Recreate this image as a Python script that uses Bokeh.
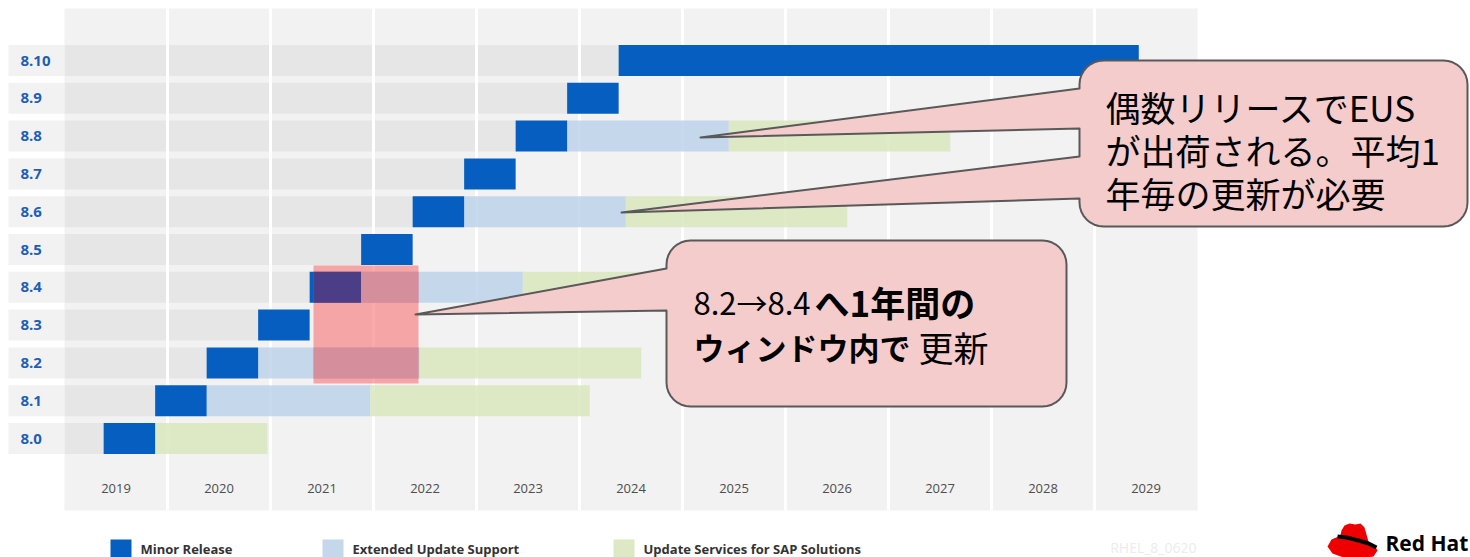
import math
from bokeh.plotting import figure
from bokeh.models import Range1d
from bokeh.core.properties import value
from bokeh.embed import file_html
from bokeh.resources import INLINE

# ---------------- data ----------------
versions = ["8.0", "8.1", "8.2", "8.3", "8.4", "8.5", "8.6", "8.7", "8.8", "8.9", "8.10"]
minor_start = [2019.38, 2019.88, 2020.38, 2020.88, 2021.38, 2021.88, 2022.38, 2022.88, 2023.38, 2023.88, 2024.38]
minor_end = [2019.88, 2020.38, 2020.88, 2021.38, 2021.88, 2022.38, 2022.88, 2023.38, 2023.88, 2024.38, 2029.43]

eus_versions = ["8.1", "8.2", "8.4", "8.6", "8.8"]
eus_start = [2020.38, 2020.88, 2021.88, 2022.88, 2023.88]
eus_end = [2021.97, 2022.45, 2023.45, 2024.45, 2025.45]

sap_versions = ["8.0", "8.1", "8.2", "8.4", "8.6", "8.8"]
sap_start = [2019.88, 2021.97, 2022.45, 2023.45, 2024.45, 2025.45]
sap_end = [2020.97, 2024.10, 2024.60, 2025.60, 2026.60, 2027.60]

years = list(range(2019, 2030))
year_labels = [str(y) for y in years]

legend_labels = ["Minor Release", "Extended Update Support", "Update Services for SAP Solutions"]
callout1_lines = ["偶数リリースでEUS", "が出荷される。平均1", "年毎の更新が必要"]
callout2_line1 = ["8.2→8.4", "へ1年間の"]
callout2_line2 = ["ウィンドウ内で", "更新"]
doc_id = "RHEL_8_0620"
brand = "Red Hat"

# ---------------- colours ----------------
C_MINOR = "#065ec1"
C_EUS = "#bdd2ea"
C_SAP = "#d9e8bc"
C_COL = "#f2f2f2"
C_BAND = "#e6e6e6"
C_LABEL = "#1d5fb6"
C_CALLOUT = "#f4cccc"
C_EDGE = "#595959"
JP = value("Noto Sans CJK JP")
LAT = value("Open Sans")

# ---------------- pixel <-> data helpers (layout only) ----------------
W, H = 1470, 557
def px(x):
    return 2019 + (x - 64) / 103.0
def py(y):
    return (438 - y) / 37.8

row = {v: i for i, v in enumerate(versions)}
HALF = 0.41

p = figure(width=W, height=H, output_backend="svg", toolbar_location=None,
           x_range=Range1d(px(0), px(W)), y_range=Range1d(py(H), py(0)),
           x_axis_location=None, y_axis_location=None, min_border=0)
p.grid.visible = False
p.outline_line_color = None
p.background_fill_color = "white"
p.border_fill_color = "white"

# column background
p.quad(left=[years[0]], right=[years[-1] + 1], top=[py(8)], bottom=[py(510)],
       fill_color=C_COL, line_color=None)

# row grey bands (from chart start to release start)
ys = [row[v] for v in versions]
p.quad(left=[years[0]] * len(versions), right=minor_start,
       top=[y + HALF for y in ys], bottom=[y - HALF for y in ys],
       fill_color=C_BAND, line_color=None)

# row label boxes
p.quad(left=[px(8)] * len(versions), right=[years[0]] * len(versions),
       top=[y + HALF for y in ys], bottom=[y - HALF for y in ys],
       fill_color=C_COL, line_color=None)
p.text(x=[px(20)] * len(versions), y=ys, text=versions, text_font=LAT,
       text_font_style="bold", text_font_size="15px", text_color=C_LABEL,
       text_baseline="middle", text_align="left")

# white year separators
p.segment(x0=years[1:], y0=[py(8)] * (len(years) - 1), x1=years[1:],
          y1=[py(510)] * (len(years) - 1), line_color="white", line_width=3)

# bars
ey = [row[v] for v in eus_versions]
p.quad(left=eus_start, right=eus_end, top=[y + HALF for y in ey],
       bottom=[y - HALF for y in ey], fill_color=C_EUS, fill_alpha=0.85, line_color=None)
sy = [row[v] for v in sap_versions]
p.quad(left=sap_start, right=sap_end, top=[y + HALF for y in sy],
       bottom=[y - HALF for y in sy], fill_color=C_SAP, fill_alpha=0.85, line_color=None)
p.quad(left=minor_start, right=minor_end, top=[y + HALF for y in ys],
       bottom=[y - HALF for y in ys], fill_color=C_MINOR, line_color=None)

# year labels
p.text(x=[y + 0.5 for y in years], y=[py(488)] * len(years), text=year_labels,
       text_font=LAT, text_font_size="13px", text_color="#4d4d4d",
       text_align="center", text_baseline="middle")

# highlight window
hl_l, hl_r, hl_t, hl_b = px(313), px(418), py(265), py(383)
p.quad(left=[hl_l], right=[hl_r], top=[hl_t], bottom=[hl_b],
       fill_color="#f77272", fill_alpha=0.6, line_color=None)

def overlaps(starts, ends, rows_, color):
    L, R, T, B = [], [], [], []
    for s, e, r in zip(starts, ends, rows_):
        l2, r2 = max(s, hl_l), min(e, hl_r)
        t2, b2 = min(r + HALF, hl_t), max(r - HALF, hl_b)
        if r2 > l2 and t2 > b2:
            L.append(l2); R.append(r2); T.append(t2); B.append(b2)
    if L:
        p.quad(left=L, right=R, top=T, bottom=B, fill_color=color, line_color=None)

overlaps(minor_start, minor_end, ys, "#4b3e87")
overlaps(eus_start, eus_end, ey, "#d48e9c")

# ---------------- callouts ----------------
def callout(l, t, r, b, rad, pointers):
    pts = []
    def arc(cx, cy, a0, a1):
        for k in range(9):
            a = math.radians(a0 + (a1 - a0) * k / 8)
            pts.append((cx + rad * math.cos(a), cy + rad * math.sin(a)))
    arc(r - rad, t + rad, -90, 0)
    arc(r - rad, b - rad, 0, 90)
    arc(l + rad, b - rad, 90, 180)
    for (ya, yb, tx, ty) in sorted(pointers, key=lambda q: -q[0]):
        pts.append((l, yb)); pts.append((tx, ty)); pts.append((l, ya))
    arc(l + rad, t + rad, 180, 270)
    xs_ = [px(a) for a, _ in pts]
    ys_ = [py(c) for _, c in pts]
    p.patch(xs_, ys_, fill_color=C_CALLOUT, line_color=C_EDGE, line_width=2,
            line_join="round")

callout(1079, 60, 1467, 226, 24, [(88, 128, 700, 137), (156, 198, 621, 212)])
callout(666, 240, 1066, 406, 24, [(268, 310, 415, 314)])

p.text(x=[px(1105)] * 3, y=[py(106), py(149), py(192)], text=callout1_lines,
       text_font=JP, text_font_size="35px", text_color="black",
       text_baseline="middle", text_align="left")

p.text(x=[px(693)], y=[py(301)], text=[callout2_line1[0]], text_font=JP,
       text_font_size="31px", text_color="black", text_baseline="middle")
p.text(x=[px(814)], y=[py(301)], text=[callout2_line1[1]], text_font=JP,
       text_font_style="bold", text_font_size="35px", text_color="black",
       text_baseline="middle")
p.text(x=[px(693)], y=[py(346)], text=[callout2_line2[0]], text_font=JP,
       text_font_style="bold", text_font_size="31px", text_color="black",
       text_baseline="middle")
p.text(x=[px(918)], y=[py(346)], text=[callout2_line2[1]], text_font=JP,
       text_font_size="35px", text_color="black", text_baseline="middle")

# ---------------- legend ----------------
leg_sq_x = [px(120.5), px(332.5), px(623.5)]
leg_tx_x = [px(140), px(352), px(643)]
p.rect(x=leg_sq_x, y=[py(549.5)] * 3, width=21, height=21, width_units="screen",
       height_units="screen", fill_color=[C_MINOR, "#c5d7eb", "#dde9c4"], line_color=None)
p.text(x=leg_tx_x, y=[py(548)] * 3, text=legend_labels, text_font=LAT,
       text_font_style="bold", text_font_size="13px", text_color="#333333",
       text_baseline="middle", text_align="left")

p.text(x=[px(1196)], y=[py(547)], text=[doc_id], text_font=LAT,
       text_font_size="14px", text_color="#ececec", text_baseline="middle",
       text_align="right")

# ---------------- logo ----------------
crown = [(1339, 539), (1341, 530), (1344, 525), (1349, 523), (1355, 524), (1360, 523),
         (1364, 527), (1366, 534), (1368, 541)]
brim = [(1327, 546), (1331, 539), (1338, 536), (1350, 539), (1366, 542), (1374, 545),
        (1377, 550), (1373, 556), (1360, 558), (1343, 557), (1332, 553)]
p.patch([px(a) for a, _ in crown], [py(b) for _, b in crown], fill_color="#ee0000", line_color=None)
p.patch([px(a) for a, _ in brim], [py(b) for _, b in brim], fill_color="#ee0000", line_color=None)
band = [(1337, 536), (1346, 537), (1358, 540), (1368, 543), (1376, 547)]
p.line([px(a) for a, _ in band], [py(b) for _, b in band], line_color="black", line_width=4)
p.text(x=[px(1385)], y=[py(542)], text=[brand], text_font=LAT, text_font_style="bold",
       text_font_size="21px", text_color="black", text_baseline="middle")

open("out.html", "w").write(file_html(p, INLINE))
